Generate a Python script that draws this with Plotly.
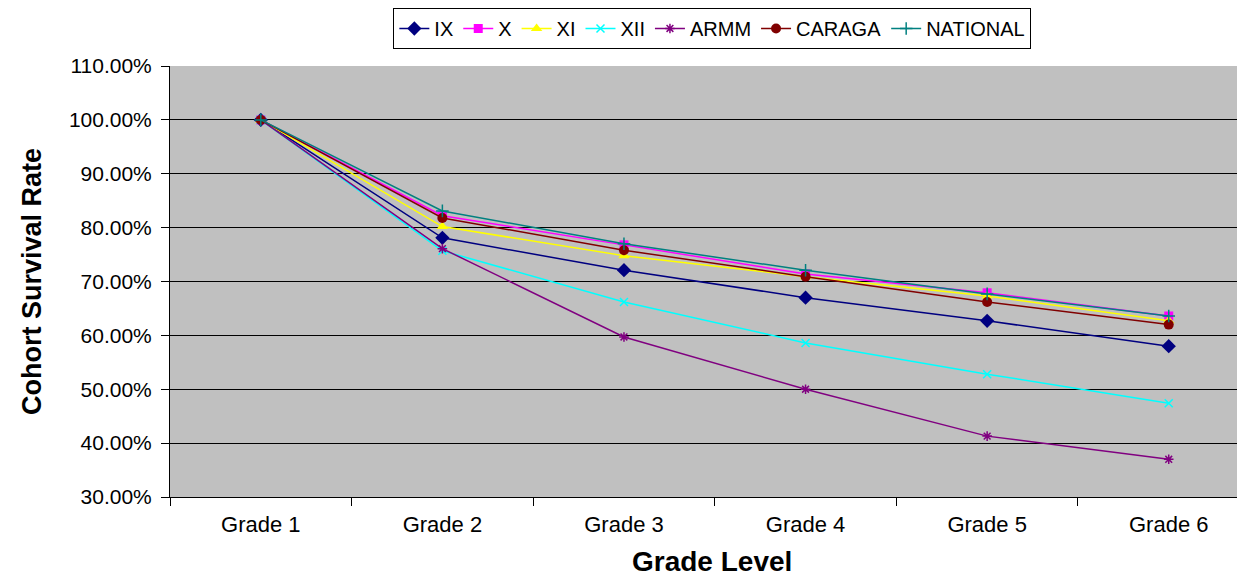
import plotly.graph_objects as go

grades = ["Grade 1", "Grade 2", "Grade 3", "Grade 4", "Grade 5", "Grade 6"]
ix = [100.0, 78.1, 72.1, 67.0, 62.7, 58.0]
x_reg = [100.0, 82.2, 76.8, 71.4, 67.9, 63.6]
xi = [100.0, 80.2, 74.8, 70.9, 67.3, 62.7]
xii = [100.0, 75.7, 66.2, 58.6, 52.8, 47.4]
armm = [100.0, 76.1, 59.7, 50.0, 41.3, 37.0]
caraga = [100.0, 81.8, 75.8, 70.9, 66.2, 62.0]
national = [100.0, 83.1, 77.0, 72.1, 67.7, 63.6]

y_ticks = [30, 40, 50, 60, 70, 80, 90, 100, 110]

series = [
    ("IX", ix, "#000080", "diamond", 11, False),
    ("X", x_reg, "#FF00FF", "square", 9, False),
    ("XI", xi, "#FFFF00", "triangle-up", 10, False),
    ("XII", xii, "#00FFFF", "x-thin", 8, True),
    ("ARMM", armm, "#800080", "asterisk", 8, True),
    ("CARAGA", caraga, "#800000", "circle", 10, False),
    ("NATIONAL", national, "#008080", "cross-thin", 9, True),
]

fig = go.Figure()
for name, vals, color, sym, size, thin in series:
    marker = dict(symbol=sym, size=size, color=color)
    if thin:
        marker["line"] = dict(color=color, width=1.5)
    fig.add_trace(go.Scatter(
        x=grades, y=[v / 100 for v in vals], name=name, mode="lines+markers",
        line=dict(color=color, width=1.5), marker=marker,
    ))

font_family = "Liberation Sans, Arial, sans-serif"
fig.update_layout(
    width=1237, height=568,
    margin=dict(l=162, r=0, t=58, b=79, autoexpand=False),
    paper_bgcolor="white",
    plot_bgcolor="#C0C0C0",
    font=dict(family=font_family, color="black"),
    showlegend=True,
    legend=dict(
        orientation="h", x=0.5045, xanchor="center", y=1.1346, yanchor="top",
        bordercolor="black", borderwidth=1, bgcolor="white",
        font=dict(size=20, family=font_family), itemwidth=30,
        tracegroupgap=0, valign="middle",
    ),
    xaxis=dict(
        type="category", range=[-0.5, 5.42], tickson="boundaries",
        ticks="outside", ticklen=8, tickcolor="black", ticklabelstandoff=8,
        showline=True, linecolor="black", linewidth=1,
        showgrid=False, tickfont=dict(size=22), automargin=False,
    ),
    yaxis=dict(
        range=[0.30, 1.10], tickvals=[v / 100 for v in y_ticks], tickformat=".2%",
        ticks="outside", ticklen=8, tickcolor="black", ticklabelstandoff=5,
        showline=True, linecolor="black", linewidth=1,
        showgrid=True, gridcolor="black", gridwidth=1,
        tickfont=dict(size=21), automargin=False,
        title=dict(text="<b>Cohort Survival Rate</b>", font=dict(size=27), standoff=19),
        zeroline=False,
    ),
    annotations=[dict(
        text="<b>Grade Level</b>", xref="paper", yref="paper",
        x=0.5045, y=-0.149, xanchor="center", yanchor="middle",
        showarrow=False, font=dict(size=28, family=font_family, color="black"),
    )],
)

fig.write_html("out.html")
